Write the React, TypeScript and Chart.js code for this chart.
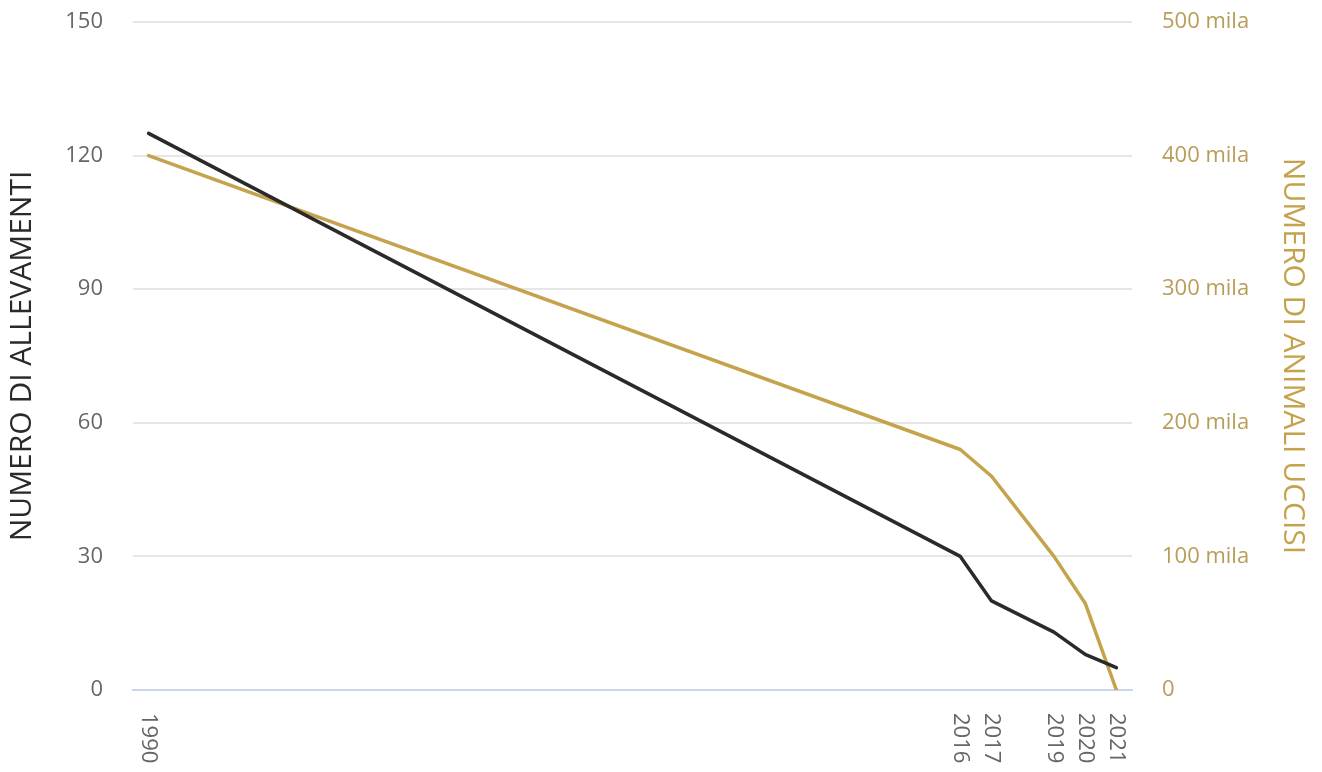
import React, { useEffect, useRef } from 'react';
import { Chart, registerables } from 'chart.js';

Chart.register(...registerables);

const years = [1990, 2016, 2017, 2019, 2020, 2021];
const allevamenti = [125, 30, 20, 13, 8, 5];
const animaliUccisi = [400000, 180000, 160000, 100000, 65000, 0];
const leftTickValues = [0, 30, 60, 90, 120, 150];
const rightTickValues = [0, 100000, 200000, 300000, 400000, 500000];
const leftTitle = 'NUMERO DI ALLEVAMENTI';
const rightTitle = 'NUMERO DI ANIMALI UCCISI';

const FONT = '"Open Sans", "DejaVu Sans", sans-serif';
const GOLD_LINE = '#c4a34c';
const GOLD_TEXT = '#b89d58';
const DARK = '#2a2a2a';
const GREY = '#666666';

const xLabelsPlugin = {
  id: 'xLabelsVertical',
  afterDraw(chart: any) {
    const xs = chart.scales.x;
    const ctx = chart.ctx;
    ctx.save();
    ctx.font = `22px ${FONT}`;
    ctx.fillStyle = GREY;
    ctx.textAlign = 'left';
    ctx.textBaseline = 'middle';
    years.forEach((y) => {
      const px = xs.getPixelForValue(y);
      ctx.save();
      ctx.translate(px, chart.chartArea.bottom + 23);
      ctx.rotate(Math.PI / 2);
      ctx.fillText(String(y), 0, 0);
      ctx.restore();
    });
    ctx.restore();
  },
};

export default function App() {
  const ref = useRef<HTMLCanvasElement | null>(null);

  useEffect(() => {
    if (!ref.current) return;
    const chart = new Chart(ref.current, {
      type: 'line',
      data: {
        datasets: [
          {
            label: leftTitle,
            data: years.map((y, i) => ({ x: y, y: allevamenti[i] })),
            yAxisID: 'y',
            borderColor: DARK,
            borderWidth: 3.5,
            pointRadius: 0,
            tension: 0,
            borderJoinStyle: 'round',
            borderCapStyle: 'round',
          },
          {
            label: rightTitle,
            data: years.map((y, i) => ({ x: y, y: animaliUccisi[i] })),
            yAxisID: 'y1',
            borderColor: GOLD_LINE,
            borderWidth: 3.5,
            pointRadius: 0,
            tension: 0,
            borderJoinStyle: 'round',
            borderCapStyle: 'round',
          },
        ],
      },
      options: {
        animation: false,
        responsive: true,
        maintainAspectRatio: false,
        layout: { padding: { top: 22, left: 0, right: 0, bottom: 0 } },
        plugins: {
          legend: { display: false },
          tooltip: { enabled: false },
        },
        scales: {
          x: {
            type: 'linear',
            min: 1989.5,
            max: 2021.5,
            grid: { display: false },
            border: { display: true, color: '#ccd6eb', width: 2 },
            ticks: { display: false },
            afterBuildTicks: (s: any) => {
              s.ticks = years.map((v) => ({ value: v }));
            },
            afterFit: (s: any) => {
              s.height = 82;
              s.paddingLeft = 0;
              s.paddingRight = 0;
            },
          },
          y: {
            position: 'left',
            min: 0,
            max: 150,
            afterBuildTicks: (s: any) => {
              s.ticks = leftTickValues.map((v) => ({ value: v }));
            },
            grid: { color: '#e6e6e6', lineWidth: 2, drawTicks: false },
            border: { display: false },
            ticks: {
              color: GREY,
              font: { family: FONT, size: 22 },
              padding: 30,
            },
            title: {
              display: true,
              text: leftTitle,
              color: DARK,
              font: { family: FONT, size: 30 },
              padding: { top: 4, bottom: 0 },
            },
            afterFit: (s: any) => {
              s.width = 133;
              s.paddingTop = 0;
              s.paddingBottom = 0;
            },
          },
          y1: {
            position: 'right',
            min: 0,
            max: 500000,
            afterBuildTicks: (s: any) => {
              s.ticks = rightTickValues.map((v) => ({ value: v }));
            },
            grid: { display: false, drawTicks: false },
            border: { display: false },
            ticks: {
              color: GOLD_TEXT,
              font: { family: FONT, size: 22 },
              padding: 30,
              callback: (v: any) => (v === 0 ? '0' : `${v / 1000} mila`),
            },
            title: {
              display: true,
              text: rightTitle,
              color: GOLD_LINE,
              font: { family: FONT, size: 30 },
              padding: { top: 11, bottom: 0 },
            },
            afterFit: (s: any) => {
              s.width = 190;
              s.paddingTop = 0;
              s.paddingBottom = 0;
            },
          },
        },
      },
      plugins: [xLabelsPlugin],
    } as any);
    return () => chart.destroy();
  }, []);

  return (
    <div style={{ position: 'fixed', left: 0, top: 0, width: 1322, height: 772, background: '#fff' }}>
      <canvas ref={ref} />
    </div>
  );
}
